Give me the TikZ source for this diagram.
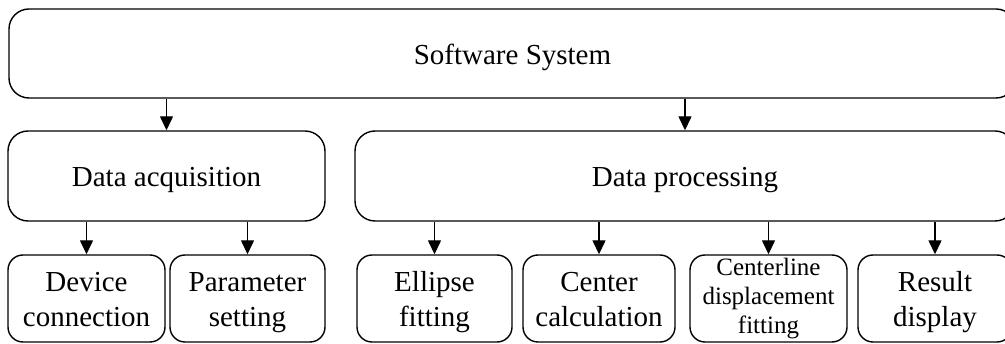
\documentclass[tikz,border=0pt]{standalone}
\usepackage{fontspec}
\setmainfont{Liberation Serif}
\usetikzlibrary{arrows.meta}
\newcommand{\boxtxt}[2][8pt]{\raisebox{0pt}[\dimexpr\height+#1\relax][\depth]{\begin{tabular}{@{}c@{}}#2\end{tabular}}}
\begin{document}
\begin{tikzpicture}[x=1pt,y=1pt,
  box/.style={draw, line width=1.4pt, rounded corners=20pt, inner sep=0pt, align=center,
    font=\fontsize{29}{35}\selectfont},
  sbox/.style={box, rounded corners=15pt, minimum height=87pt},
  arr/.style={line width=1.4pt, -{Triangle[length=14pt,width=13pt]}}]
\useasboundingbox (0,0) rectangle (1005,-344);
\node[box, minimum width=1007pt, minimum height=89pt] (sys) at (512.5,-53.5) {\boxtxt{Software System}};
\node[box, minimum width=317pt, minimum height=90pt] (da) at (166.5,-176) {\boxtxt{Data acquisition}};
\node[box, minimum width=660pt, minimum height=90pt] (dp) at (685,-176) {\boxtxt{Data processing}};
\node[sbox, minimum width=157pt] (dev) at (86.5,-298.5) {\boxtxt{Device\\connection}};
\node[sbox, minimum width=155pt] (par) at (247.5,-298.5) {\boxtxt{Parameter\\setting}};
\node[sbox, minimum width=155pt] (ell) at (434.5,-298.5) {\boxtxt{Ellipse\\fitting}};
\node[sbox, minimum width=152pt] (cen) at (599,-298.5) {\boxtxt{Center\\calculation}};
\node[sbox, minimum width=157pt, font=\fontsize{25}{29}\selectfont] (cl) at (768.5,-298.5) {\boxtxt[0pt]{Centerline\\displacement\\fitting}};
\node[sbox, minimum width=154pt] (res) at (935,-298.5) {\boxtxt{Result\\display}};
\draw[arr] (sys.south -| da.north) -- (da.north);
\draw[arr] (sys.south -| dp.north) -- (dp.north);
\draw[arr] (da.south -| dev.north) -- (dev.north);
\draw[arr] (da.south -| par.north) -- (par.north);
\draw[arr] (dp.south -| ell.north) -- (ell.north);
\draw[arr] (dp.south -| cen.north) -- (cen.north);
\draw[arr] (dp.south -| cl.north) -- (cl.north);
\draw[arr] (dp.south -| res.north) -- (res.north);
\end{tikzpicture}
\end{document}
